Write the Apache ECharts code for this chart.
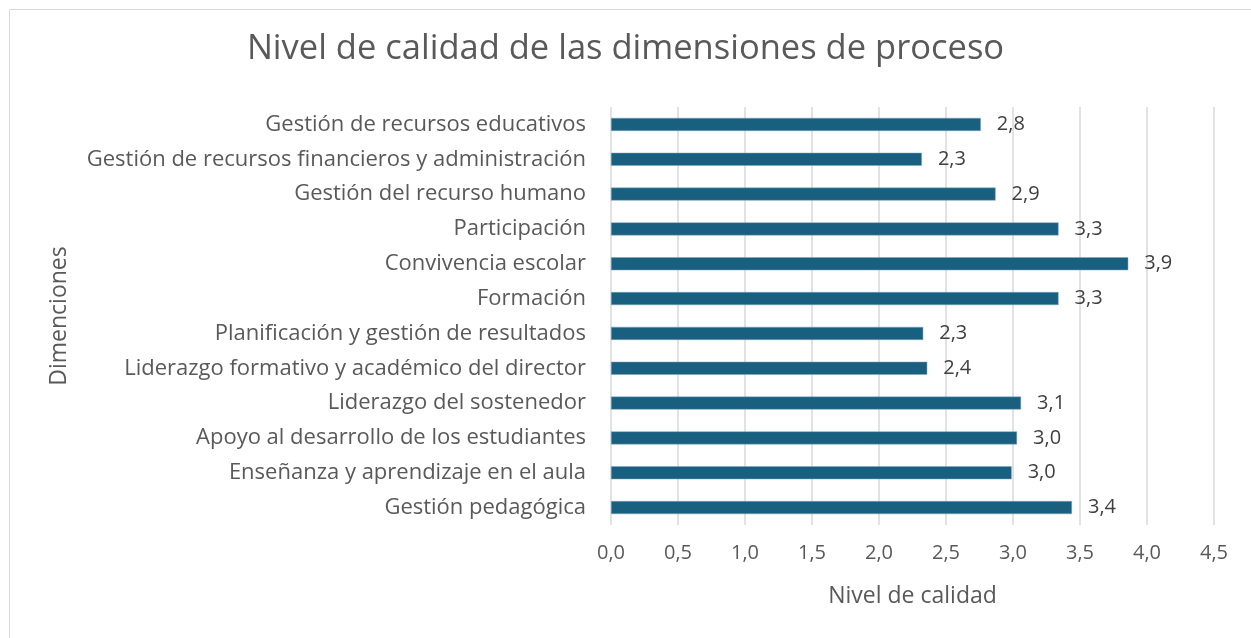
<!DOCTYPE html>
<html lang="es">
<head>
    <meta charset="utf-8">
    <title>Nivel de calidad</title>
    <script src="https://cdn.jsdelivr.net/npm/echarts@6/dist/echarts.min.js"></script>
    <style>
        html, body { margin: 0; padding: 0; background: #fff; }
        #main { width: 1251px; height: 638px; }
    </style>
</head>
<body>
<div id="main"></div>
<script type="text/javascript">
    // dimensiones (de arriba hacia abajo)
    var dimensiones = [
        'Gestión de recursos educativos',
        'Gestión de recursos financieros y administración',
        'Gestión del recurso humano',
        'Participación',
        'Convivencia escolar',
        'Formación',
        'Planificación y gestión de resultados',
        'Liderazgo formativo y académico del director',
        'Liderazgo del sostenedor',
        'Apoyo al desarrollo de los estudiantes',
        'Enseñanza y aprendizaje en el aula',
        'Gestión pedagógica'
    ];
    var nivel = [2.76, 2.32, 2.87, 3.34, 3.86, 3.34, 2.33, 2.36, 3.06, 3.03, 2.99, 3.44];

    var fmt = function (v) { return v.toFixed(1).replace('.', ','); };
    var gris = '#595959';
    var fuente = '"Open Sans"';

    var myChart = echarts.init(document.getElementById('main'));

    myChart.setOption({
        animation: false,
        textStyle: { fontFamily: fuente },
        graphic: [{
            type: 'rect',
            shape: { x: 9.5, y: 9.5, width: 1250, height: 640 },
            style: { fill: null, stroke: '#d9d9d9', lineWidth: 1 }
        }],
        title: {
            text: 'Nivel de calidad de las dimensiones de proceso',
            left: 'center',
            top: 27,
            textStyle: { fontSize: 34.5, fontWeight: 'normal', color: gris, fontFamily: fuente }
        },
        grid: { left: 611, right: 37, top: 107, bottom: 113, containLabel: false },
        xAxis: {
            type: 'value',
            min: 0,
            max: 4.5,
            interval: 0.5,
            name: 'Nivel de calidad',
            nameLocation: 'middle',
            nameGap: 60,
            nameTextStyle: { fontSize: 23, color: gris, fontFamily: fuente },
            axisLine: { show: false },
            axisTick: { show: false },
            axisLabel: { fontSize: 20, color: gris, margin: 18, formatter: fmt, fontFamily: fuente },
            splitLine: { lineStyle: { color: '#d9d9d9', width: 1.5 } }
        },
        yAxis: {
            type: 'category',
            inverse: true,
            data: dimensiones,
            name: 'Dimenciones',
            nameLocation: 'middle',
            nameGap: 540,
            nameRotate: 90,
            nameTextStyle: { fontSize: 23, color: gris, fontFamily: fuente },
            axisLine: { show: false },
            axisTick: { show: false },
            axisLabel: { fontSize: 22, color: gris, margin: 25, fontFamily: fuente }
        },
        series: [{
            type: 'bar',
            data: nivel,
            barWidth: 13,
            itemStyle: { color: '#185f80', borderColor: '#7fa9bd', borderWidth: 0.5 },
            label: {
                show: true,
                position: 'right',
                distance: 16,
                fontSize: 20,
                color: '#404040',
                fontFamily: fuente,
                formatter: function (p) { return fmt(p.value); }
            }
        }]
    });
</script>
</body>
</html>
